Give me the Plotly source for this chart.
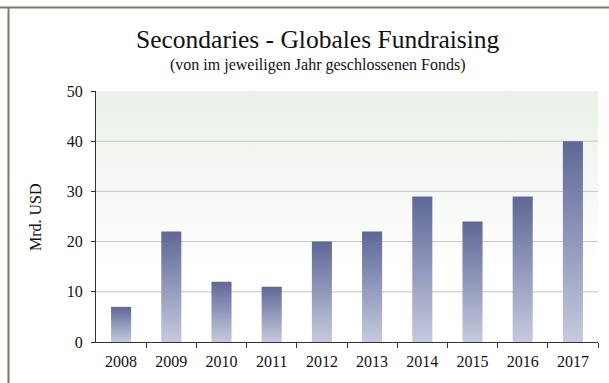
import plotly.graph_objects as go

years = ["2008", "2009", "2010", "2011", "2012", "2013", "2014", "2015", "2016", "2017"]
values = [7, 22, 12, 11, 20, 22, 29, 24, 29, 40]
y_ticks = [0, 10, 20, 30, 40, 50]

title = "Secondaries - Globales Fundraising"
subtitle = "(von im jeweiligen Jahr geschlossenen Fonds)"
y_title = "Mrd. USD"

SERIF = "Liberation Serif, DejaVu Serif, serif"
half = 0.2
n = len(years)
xs = list(range(n))

fig = go.Figure()

# plot-area background gradient
fig.add_trace(go.Scatter(
    x=[-0.5, n - 0.5, n - 0.5, -0.5, -0.5], y=[0, 0, 50, 50, 0],
    mode="lines", line=dict(width=0), fill="toself",
    fillgradient=dict(type="vertical", start=15, stop=50,
                      colorscale=[[0, "#ffffff"], [1, "#ebf0e9"]]),
    hoverinfo="skip", showlegend=False))

# gridlines (drawn above background, below bars)
for g in y_ticks[1:-1]:
    fig.add_trace(go.Scatter(x=[-0.5, n - 0.5], y=[g, g], mode="lines",
                             line=dict(color="#c4c7c0", width=1),
                             hoverinfo="skip", showlegend=False))

# bars with vertical gradient
for i, v in zip(xs, values):
    fig.add_trace(go.Scatter(
        x=[i - half, i + half, i + half, i - half, i - half],
        y=[0, 0, v, v, 0],
        mode="lines", line=dict(width=0), fill="toself",
        fillgradient=dict(type="vertical",
                          colorscale=[[0, "#c6cadd"], [0.5, "#9298bc"], [1, "#5e6796"]]),
        hoverinfo="skip", showlegend=False))

# invisible trace to activate xaxis2 (boundary ticks)
fig.add_trace(go.Scatter(x=[-0.5, n - 0.5], y=[0, 0], xaxis="x2", mode="none",
                         hoverinfo="skip", showlegend=False))

fig.update_layout(
    width=609, height=383,
    margin=dict(l=96, r=11, t=91, b=41),
    paper_bgcolor="white", plot_bgcolor="rgba(0,0,0,0)",
    font=dict(family=SERIF, color="#111"),
    xaxis=dict(range=[-0.5, n - 0.5], tickvals=xs, ticktext=years,
               ticks="", showgrid=False, zeroline=False, showline=False,
               ticklabelstandoff=8,
               tickfont=dict(size=16, family=SERIF, color="#111")),
    xaxis2=dict(range=[-0.5, n - 0.5], overlaying="x", side="bottom",
                tickvals=[i + 0.5 for i in xs], showticklabels=False,
                ticks="outside", ticklen=5, tickcolor="#333", tickwidth=1,
                showline=True, linecolor="#333", linewidth=1,
                showgrid=False, zeroline=False),
    yaxis=dict(range=[0, 50], tickvals=y_ticks, ticks="outside", ticklen=4,
               tickcolor="#333", showline=True, linecolor="#333", linewidth=1,
               showgrid=False, zeroline=False, ticklabelstandoff=5,
               tickfont=dict(size=16, family=SERIF, color="#111")),
    shapes=[
        dict(type="line", xref="paper", yref="paper", x0=-96/502, x1=1.1,
             y0=1 + 83.5/251, y1=1 + 83.5/251, line=dict(color="#6e8162", width=2)),
        dict(type="line", xref="paper", yref="paper", x0=-87.5/502, x1=-87.5/502,
             y0=-0.2, y1=1 + 84/251, line=dict(color="#6e8162", width=2)),
    ],
    annotations=[
        dict(text=title, xref="paper", yref="paper", x=(318 - 96) / 502, y=1 + (91 - 40) / 251,
             xanchor="center", yanchor="middle", showarrow=False,
             font=dict(size=25.5, family=SERIF, color="#111")),
        dict(text=subtitle, xref="paper", yref="paper", x=(318 - 96) / 502, y=1 + (91 - 65) / 251,
             xanchor="center", yanchor="middle", showarrow=False,
             font=dict(size=16, family=SERIF, color="#111")),
        dict(text=y_title, xref="paper", yref="paper", x=(35 - 96) / 502, y=(342 - 217) / 251,
             xanchor="center", yanchor="middle", showarrow=False, textangle=-90,
             font=dict(size=16, family=SERIF, color="#111")),
    ],
)

fig.write_html("out.html")
